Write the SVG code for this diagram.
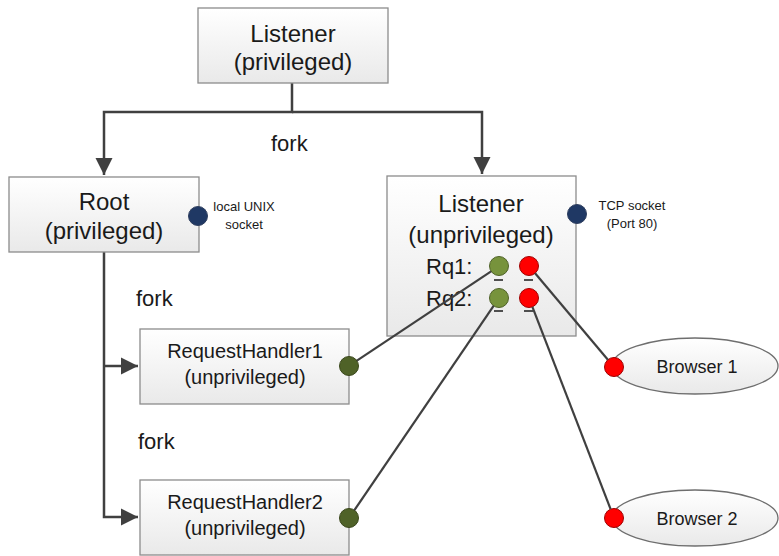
<svg xmlns="http://www.w3.org/2000/svg" width="779" height="556" viewBox="0 0 779 556">
  <defs>
    <linearGradient id="boxFill" x1="0" y1="0" x2="0" y2="1">
      <stop offset="0" stop-color="#ffffff"/>
      <stop offset="1" stop-color="#e9e9e9"/>
    </linearGradient>
    <marker id="arrow" viewBox="0 0 10 10" refX="10" refY="5" markerWidth="7" markerHeight="7" markerUnits="strokeWidth" orient="auto">
      <path d="M0,0 L10,5 L0,10 Z" fill="#404040"/>
    </marker>
    <style>
      .box { fill: url(#boxFill); stroke: #8c8c8c; stroke-width: 1.3; }
      .ell { fill: url(#boxFill); stroke: #6e6e6e; stroke-width: 1.3; }
      .wire { fill: none; stroke: #404040; stroke-width: 2.5; }
      .link { fill: none; stroke: #404040; stroke-width: 2.2; }
      .big { font-family: "Liberation Sans", Arial, sans-serif; font-size: 24px; fill: #1a1a1a; text-anchor: middle; }
      .mid { font-family: "Liberation Sans", Arial, sans-serif; font-size: 20px; fill: #1a1a1a; text-anchor: middle; }
      .lbl { font-family: "Liberation Sans", Arial, sans-serif; font-size: 22px; fill: #1a1a1a; }
      .small { font-family: "Liberation Sans", Arial, sans-serif; font-size: 13px; fill: #1a1a1a; text-anchor: middle; }
      .navy { fill: #1f3864; stroke: #2f3f5f; stroke-width: 1; }
      .olive { fill: #77933c; stroke: #4f6228; stroke-width: 1; }
      .dolive { fill: #4f6228; stroke: #3a471c; stroke-width: 1; }
      .red { fill: #ff0000; stroke: #a00000; stroke-width: 1; }
      .dash { stroke: #1a1a1a; stroke-width: 1.5; }
    </style>
  </defs>

  <!-- fork tree: drawn beneath the process boxes -->
  <g id="fork-tree">
    <path class="wire" d="M292,83 V112 H104 V175" marker-end="url(#arrow)"/>
    <path class="wire" d="M292,112 H482 V174" marker-end="url(#arrow)"/>
    <path class="wire" d="M104,252 V517 H138" marker-end="url(#arrow)"/>
    <path class="wire" d="M104,366 H138" marker-end="url(#arrow)"/>
    <text class="lbl" x="271" y="151">fork</text>
    <text class="lbl" x="136" y="306">fork</text>
    <text class="lbl" x="138" y="449">fork</text>
  </g>

  <g id="listener-privileged">
    <rect class="box" x="198" y="8" width="190" height="75"/>
    <text class="big" x="293" y="42">Listener</text>
    <text class="big" x="293" y="70">(privileged)</text>
  </g>

  <g id="root">
    <rect class="box" x="9" y="177" width="190" height="75"/>
    <text class="big" x="104" y="210">Root</text>
    <text class="big" x="104" y="239">(privileged)</text>
    <circle class="navy" cx="198" cy="216" r="9.5"/>
    <text class="small" x="244" y="211">local UNIX</text>
    <text class="small" x="244" y="229">socket</text>
  </g>

  <g id="listener-unprivileged">
    <rect class="box" x="387" y="176" width="189" height="160"/>
    <text class="big" x="481" y="212">Listener</text>
    <text class="big" x="481" y="243">(unprivileged)</text>
    <text class="lbl" x="426" y="274">Rq1:</text>
    <text class="lbl" x="426" y="306">Rq2:</text>
    <circle class="navy" cx="577" cy="214" r="9.5"/>
    <text class="small" x="632" y="210">TCP socket</text>
    <text class="small" x="632" y="228">(Port 80)</text>
    <line class="dash" x1="494" y1="280" x2="503" y2="280"/>
    <line class="dash" x1="524" y1="280" x2="533" y2="280"/>
    <line class="dash" x1="494" y1="311" x2="503" y2="311"/>
    <line class="dash" x1="524" y1="311" x2="533" y2="311"/>
    <circle class="olive" cx="499" cy="266" r="9.5"/>
    <circle class="red" cx="529" cy="266" r="9.5"/>
    <circle class="olive" cx="499" cy="298" r="9.5"/>
    <circle class="red" cx="529" cy="298" r="9.5"/>
  </g>

  <g id="request-handler-1">
    <rect class="box" x="140" y="329" width="209" height="75"/>
    <text class="mid" x="245" y="358">RequestHandler1</text>
    <text class="mid" x="245" y="384">(unprivileged)</text>
    <circle class="dolive" cx="349" cy="366" r="9.5"/>
  </g>

  <g id="request-handler-2">
    <rect class="box" x="140" y="480" width="209" height="75"/>
    <text class="mid" x="245" y="509">RequestHandler2</text>
    <text class="mid" x="245" y="535">(unprivileged)</text>
    <circle class="dolive" cx="349" cy="518" r="9.5"/>
  </g>

  <g id="browser-1">
    <ellipse class="ell" cx="695" cy="366" rx="83" ry="28"/>
    <text class="mid" x="697" y="373" style="font-size:18px">Browser 1</text>
    <circle class="red" cx="614" cy="367" r="9.5"/>
  </g>

  <g id="browser-2">
    <ellipse class="ell" cx="695" cy="518" rx="83" ry="28"/>
    <text class="mid" x="697" y="525" style="font-size:18px">Browser 2</text>
    <circle class="red" cx="614" cy="518" r="9.5"/>
  </g>

  <!-- socket links: on top of the boxes, trimmed to the circle edges -->
  <g id="connectors">
    <line class="link" x1="356.9" y1="360.7" x2="491.1" y2="271.3"/>
    <line class="link" x1="354.4" y1="510.2" x2="493.6" y2="305.8"/>
    <line class="link" x1="535.1" y1="273.3" x2="607.9" y2="359.7"/>
    <line class="link" x1="532.4" y1="306.9" x2="610.6" y2="509.1"/>
  </g>
</svg>
